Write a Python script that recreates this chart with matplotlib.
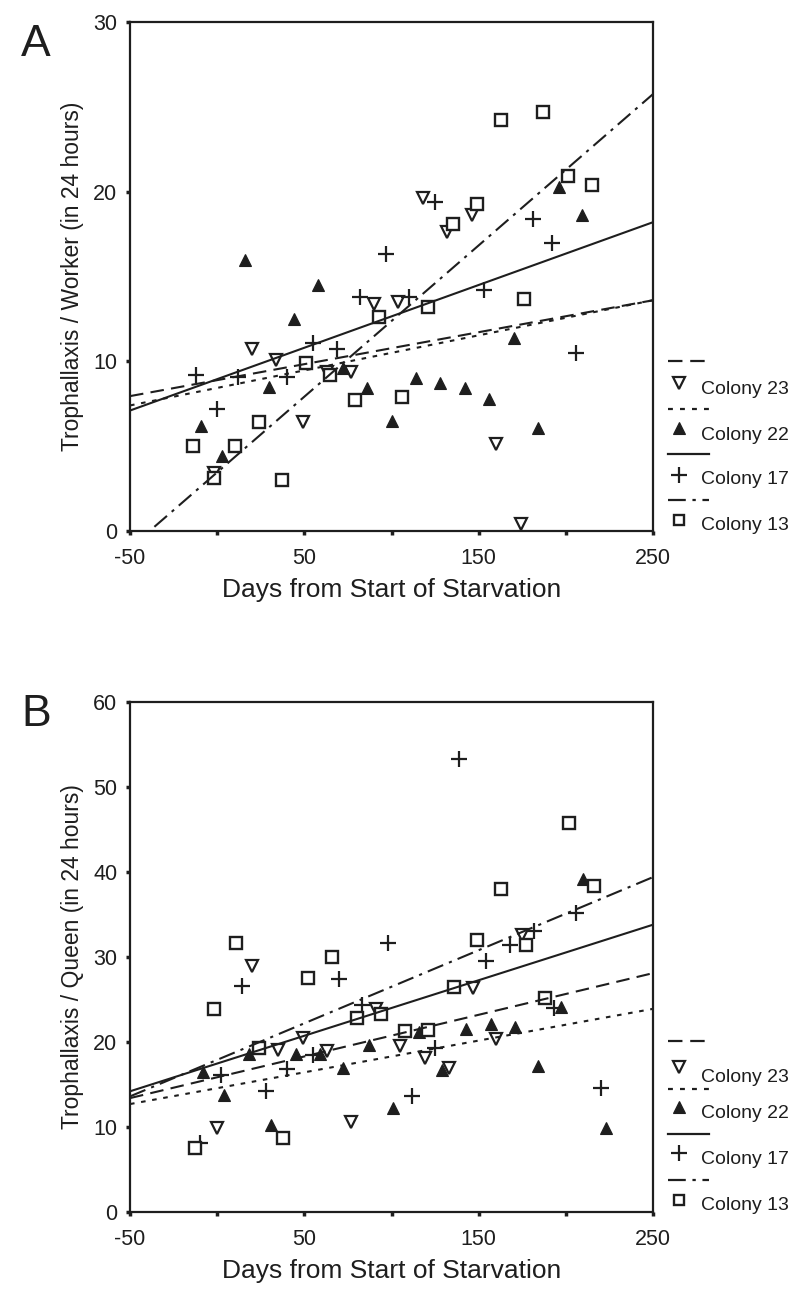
import matplotlib
matplotlib.use("Agg")
import matplotlib.pyplot as plt
import numpy as np

plt.rcParams['font.family'] = ['Liberation Sans', 'DejaVu Sans']

# ---------------- data : panel A (worker) ----------------
a23_x = [-2, 20, 34, 49, 63, 77, 90, 104, 118, 132, 146, 160, 174]
a23_y = [3.4, 10.7, 10.1, 6.4, 9.4, 9.4, 13.4, 13.5, 19.6, 17.6, 18.6, 5.1, 0.4]
a22_x = [-9, 3, 16, 30, 44, 58, 72, 86, 100, 114, 128, 142, 156, 170, 184, 196, 209]
a22_y = [6.2, 4.4, 16.0, 8.5, 12.5, 14.5, 9.6, 8.4, 6.5, 9.0, 8.7, 8.4, 7.8, 11.4, 6.1, 20.3, 18.6]
a17_x = [-12, 0, 12, 40, 55, 69, 82, 97, 110, 125, 153, 181, 192, 206]
a17_y = [9.2, 7.2, 9.1, 9.1, 11.1, 10.7, 13.8, 16.3, 13.8, 19.4, 14.2, 18.4, 17.0, 10.5]
a13_x = [-14, -2, 10, 24, 37, 51, 65, 79, 93, 106, 121, 135, 149, 163, 176, 187, 201, 215]
a13_y = [5.0, 3.1, 5.0, 6.4, 3.0, 9.9, 9.2, 7.7, 12.6, 7.9, 13.2, 18.1, 19.3, 24.2, 13.7, 24.7, 20.9, 20.4]
# regression lines: value at x=-50 and x=250
fit_x = [-50, 250]
a23_fit = [7.95, 13.6]
a22_fit = [7.4, 13.6]
a17_fit = [7.1, 18.2]
a13_fit = [-1.0, 25.75]

# ---------------- data : panel B (queen) ----------------
b23_x = [0, 20, 35, 49, 63, 77, 91, 105, 119, 133, 147, 160, 175]
b23_y = [9.9, 28.9, 19.1, 20.5, 18.9, 10.6, 23.9, 19.5, 18.1, 17.0, 26.4, 20.4, 32.6]
b22_x = [-8, 4, 18, 31, 45, 59, 72, 87, 101, 116, 129, 143, 157, 171, 184, 197, 210, 223]
b22_y = [16.5, 13.8, 18.6, 10.2, 18.6, 18.6, 16.9, 19.6, 12.2, 21.2, 16.7, 21.5, 22.1, 21.8, 17.2, 24.1, 39.2, 9.9]
b17_x = [-10, 2, 14, 28, 40, 55, 70, 83, 98, 112, 125, 139, 154, 168, 182, 193, 206, 220]
b17_y = [8.1, 16.1, 26.6, 14.2, 16.8, 18.5, 27.4, 24.3, 31.6, 13.7, 19.3, 53.3, 29.5, 31.4, 33.1, 24.0, 35.2, 14.6]
b13_x = [-13, -2, 11, 24, 38, 52, 66, 80, 94, 108, 121, 136, 149, 163, 177, 188, 202, 216]
b13_y = [7.5, 23.9, 31.6, 19.3, 8.7, 27.5, 30.0, 22.8, 23.3, 21.3, 21.4, 26.5, 32.0, 38.0, 31.4, 25.2, 45.8, 38.4]
b23_fit = [13.4, 28.1]
b22_fit = [12.7, 23.9]
b17_fit = [14.2, 33.8]
b13_fit = [13.6, 39.4]

x_ticks = [-50, 0, 50, 100, 150, 200, 250]
x_ticklabels = ['-50', '', '50', '', '150', '', '250']
colonies = ['Colony 23', 'Colony 22', 'Colony 17', 'Colony 13']

INK = '#1e1e1e'
W, H = 800, 1307
fig = plt.figure(figsize=(W / 100, H / 100), dpi=100)

ls23 = (0, (6.5, 3.5))
ls22 = (0, (2.2, 3.2))
ls17 = '-'
ls13 = (0, (8, 3, 1.5, 3))
styles = [ls23, ls22, ls17, ls13]

def px_axes(l, t, r, b):
    return fig.add_axes([l / W, 1 - b / H, (r - l) / W, (b - t) / H])

def panel(ax, data, fits, ymax, ystep, ylabel):
    (x23, y23), (x22, y22), (x17, y17), (x13, y13) = data
    ms = dict(color=INK, linestyle='none')
    ax.plot(x23, y23, marker='v', markersize=8.5, markerfacecolor='white',
            markeredgewidth=1.6, **ms)
    ax.plot(x22, y22, marker='^', markersize=9, markerfacecolor=INK,
            markeredgewidth=0.8, **ms)
    ax.plot(x17, y17, marker='+', markersize=11, markeredgewidth=1.6, **ms)
    ax.plot(x13, y13, marker='s', markersize=8, markerfacecolor='white',
            markeredgewidth=1.7, **ms)
    for f, st in zip(fits, styles):
        ax.plot(fit_x, f, color=INK, linestyle=st, linewidth=1.5)
    ax.set_xlim(-50, 250)
    ax.set_ylim(0, ymax)
    ax.set_xticks(x_ticks)
    ax.set_xticklabels(x_ticklabels)
    ax.set_yticks(np.arange(0, ymax + 1, ystep))
    for s in ax.spines.values():
        s.set_linewidth(1.6)
        s.set_color(INK)
    ax.tick_params(direction='out', length=3, width=2.5, colors=INK,
                   labelsize=15.5, pad=6)
    ax.tick_params(axis='x', pad=9)
    ax.set_xlabel('Days from Start of Starvation', fontsize=19, color=INK, labelpad=7)
    ax.set_ylabel(ylabel, fontsize=16.5, color=INK, labelpad=7)

def legend(y_rows):
    # y_rows: list of (line_y, marker_y, text_y) in pixels
    lax = fig.add_axes([0, 0, 1, 1])
    lax.set_xlim(0, W)
    lax.set_ylim(H, 0)
    lax.axis('off')
    mk = [dict(marker='v', markersize=8, markerfacecolor='white', markeredgewidth=1.6),
          dict(marker='^', markersize=8.5, markerfacecolor=INK, markeredgewidth=0.8),
          dict(marker='+', markersize=11, markeredgewidth=1.6),
          dict(marker='s', markersize=7.5, markerfacecolor='white', markeredgewidth=1.7)]
    for (ly, my, ty), st, m, name in zip(y_rows, styles, mk, colonies):
        lax.plot([668, 709], [ly, ly], color=INK, linestyle=st, linewidth=1.6)
        lax.plot([679], [my], color=INK, linestyle='none', **m)
        lax.text(701, ty, name, fontsize=14, color=INK, va='center', ha='left')

axA = px_axes(130, 22, 653, 531)
panel(axA, [(a23_x, a23_y), (a22_x, a22_y), (a17_x, a17_y), (a13_x, a13_y)],
      [a23_fit, a22_fit, a17_fit, a13_fit], 30, 10,
      'Trophallaxis / Worker (in 24 hours)')
axB = px_axes(130, 702, 653, 1212)
panel(axB, [(b23_x, b23_y), (b22_x, b22_y), (b17_x, b17_y), (b13_x, b13_y)],
      [b23_fit, b22_fit, b17_fit, b13_fit], 60, 10,
      'Trophallaxis / Queen (in 24 hours)')

legend([(361, 383, 389), (409, 428, 435), (454, 475, 480), (500, 520, 525)])
legend([(1041, 1067, 1077), (1089, 1107, 1113), (1134, 1153, 1159), (1180, 1200, 1205)])

fig.text(36 / W, 1 - 44 / H, 'A', fontsize=32, color=INK, ha='center', va='center')
fig.text(36 / W, 1 - 714 / H, 'B', fontsize=32, color=INK, ha='center', va='center')

fig.savefig('out.png', dpi=100)
